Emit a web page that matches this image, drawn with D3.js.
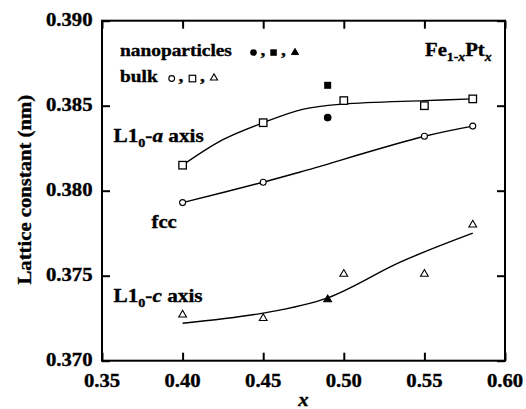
<!DOCTYPE html>
<html><head><meta charset="utf-8">
<script src="https://cdn.jsdelivr.net/npm/d3@7"></script>
<style>
html,body{margin:0;padding:0;background:#fff;}
text{font-family:"Liberation Serif","Times New Roman",serif;font-weight:bold;fill:#000;stroke:#000;stroke-width:0.35px;}
</style></head>
<body><svg id="c" width="526" height="409"></svg>
<script>
// ---- data ----
const xTicks = [0.35, 0.40, 0.45, 0.50, 0.55, 0.60];
const yTicks = [0.370, 0.375, 0.380, 0.385, 0.390];
const xTickLabels = ["0.35", "0.40", "0.45", "0.50", "0.55", "0.60"];
const yTickLabels = ["0.370", "0.375", "0.380", "0.385", "0.390"];

const bulkAx = [0.40, 0.45, 0.50, 0.55, 0.58];
const bulkA  = [0.3815, 0.3840, 0.3853, 0.3850, 0.3854];
const bulkFccX = [0.40, 0.45, 0.55, 0.58];
const bulkFcc  = [0.3793, 0.3805, 0.3832, 0.3838];
const bulkCx = [0.40, 0.45, 0.50, 0.55, 0.58];
const bulkC  = [0.3727, 0.3725, 0.3751, 0.3751, 0.3780];

const nanoX = [0.49];
const nanoA = [0.3862];
const nanoFcc = [0.3843];
const nanoC = [0.3736];

const fitAx = [0.40, 0.425, 0.45, 0.475, 0.50, 0.55, 0.58];
const fitA  = [0.3815, 0.3830, 0.3840, 0.3848, 0.3851, 0.3853, 0.3854];
const fitFccX = [0.40, 0.45, 0.473, 0.55, 0.58];
const fitFcc  = [0.3793, 0.3805, 0.3811, 0.3832, 0.3838];
const fitCx = [0.40, 0.45, 0.49, 0.535, 0.58];
const fitC  = [0.3722, 0.3728, 0.3737, 0.3758, 0.3775];

// ---- layout ----
const L = 102, R = 505, T = 20.7, B = 360.7;
const SX = 1.15; // horizontal text stretch
const svg = d3.select("#c");
const x = d3.scaleLinear().domain([0.35, 0.60]).range([L, R]);
const y = d3.scaleLinear().domain([0.370, 0.390]).range([B, T]);

function txt(px, py, anchor, size, sx) {
  return svg.append("text")
    .attr("transform", `translate(${px},${py}) scale(${sx || SX},1)`)
    .attr("text-anchor", anchor).style("font-size", size + "px");
}

// axes (ticks inward on all sides)
const tl = 8;
const styleAxis = g => { g.select(".domain").remove(); g.selectAll("line").attr("stroke", "#000").attr("stroke-width", 2); };
svg.append("g").attr("transform", `translate(0,${B})`)
  .call(d3.axisBottom(x).tickValues(xTicks).tickSize(-tl).tickFormat("")).call(styleAxis);
svg.append("g").attr("transform", `translate(0,${T})`)
  .call(d3.axisTop(x).tickValues(xTicks).tickSize(-tl).tickFormat("")).call(styleAxis);
svg.append("g").attr("transform", `translate(${L},0)`)
  .call(d3.axisLeft(y).tickValues(yTicks).tickSize(-tl).tickFormat("")).call(styleAxis);
svg.append("g").attr("transform", `translate(${R},0)`)
  .call(d3.axisRight(y).tickValues(yTicks).tickSize(-tl).tickFormat("")).call(styleAxis);
svg.append("rect").attr("x", L).attr("y", T).attr("width", R - L).attr("height", B - T)
  .attr("fill", "none").attr("stroke", "#000").attr("stroke-width", 2);

// tick labels
xTicks.forEach((v, i) => txt(x(v), 386.5, "middle", 18).text(xTickLabels[i]));
yTicks.forEach((v, i) => txt(92.5, y(v) + 5.5, "end", 18).text(yTickLabels[i]));

// axis titles
txt(x(0.475), 406, "middle", 18).style("font-style", "italic").text("x");
svg.append("text").attr("transform", `translate(31,${(T + B) / 2 - 1}) rotate(-90) scale(${SX},1)`)
  .attr("text-anchor", "middle").style("font-size", "18px").text("Lattice constant (nm)");

// fit curves
const line = d3.line().x(d => x(d[0])).y(d => y(d[1])).curve(d3.curveCatmullRom.alpha(0.5));
[[fitAx, fitA], [fitFccX, fitFcc], [fitCx, fitC]].forEach(([xs, ys]) => {
  svg.append("path").datum(xs.map((v, i) => [v, ys[i]])).attr("d", line)
    .attr("fill", "none").attr("stroke", "#000").attr("stroke-width", 1.4);
});

// markers
function squares(xs, ys, filled) {
  const sq = filled ? 7 : 7.5;
  svg.append("g").selectAll("rect").data(xs.map((v, i) => [v, ys[i]])).join("rect")
    .attr("x", d => x(d[0]) - sq / 2).attr("y", d => y(d[1]) - sq / 2)
    .attr("width", sq).attr("height", sq)
    .attr("fill", filled ? "#000" : "#fff").attr("stroke", filled ? "none" : "#000").attr("stroke-width", 1.3);
}
function circles(xs, ys, filled) {
  svg.append("g").selectAll("circle").data(xs.map((v, i) => [v, ys[i]])).join("circle")
    .attr("cx", d => x(d[0])).attr("cy", d => y(d[1])).attr("r", filled ? 3.3 : 3)
    .attr("fill", filled ? "#000" : "#fff").attr("stroke", "#000").attr("stroke-width", 1.1);
}
const tri = d3.symbol(d3.symbolTriangle, 26);
function triangles(xs, ys, filled) {
  svg.append("g").selectAll("path").data(xs.map((v, i) => [v, ys[i]])).join("path")
    .attr("d", tri).attr("transform", d => `translate(${x(d[0])},${y(d[1])})`)
    .attr("fill", filled ? "#000" : "#fff").attr("stroke", "#000").attr("stroke-width", 1.1);
}
squares(bulkAx, bulkA, false);
circles(bulkFccX, bulkFcc, false);
triangles(bulkCx, bulkC, false);
squares(nanoX, nanoA, true);
circles(nanoX, nanoFcc, true);
triangles(nanoX, nanoC, true);

// legend
const LS = 17, LX = 1.14;
txt(120, 56, "start", LS, LX).text("nanoparticles");
txt(120, 81.5, "start", LS, LX).text("bulk");
svg.append("circle").attr("cx", 253.5).attr("cy", 52.5).attr("r", 3.3).attr("fill", "#000");
svg.append("rect").attr("x", 270.3).attr("y", 49.3).attr("width", 6.5).attr("height", 6.5).attr("fill", "#000");
svg.append("path").attr("d", d3.symbol(d3.symbolTriangle, 22)).attr("transform", "translate(295,52.5)").attr("fill", "#000").attr("stroke", "#000").attr("stroke-width", 1);
txt(260.5, 56, "start", LS, LX).text(",");
txt(281, 56, "start", LS, LX).text(",");
svg.append("circle").attr("cx", 171.7).attr("cy", 78.5).attr("r", 2.9).attr("fill", "#fff").attr("stroke", "#000").attr("stroke-width", 1.1);
svg.append("rect").attr("x", 189.2).attr("y", 75.3).attr("width", 6.5).attr("height", 6.5).attr("fill", "#fff").attr("stroke", "#000").attr("stroke-width", 1.2);
svg.append("path").attr("d", d3.symbol(d3.symbolTriangle, 22)).attr("transform", "translate(214,78)").attr("fill", "#fff").attr("stroke", "#000").attr("stroke-width", 1.1);
txt(178.5, 81.5, "start", LS, LX).text(",");
txt(200, 81.5, "start", LS, LX).text(",");

// compound label
const fe = txt(425, 56, "start", 18);
fe.append("tspan").text("Fe");
fe.append("tspan").attr("dy", 5).style("font-size", "12px").text("1-");
fe.append("tspan").style("font-size", "12px").style("font-style", "italic").text("x");
fe.append("tspan").attr("dy", -5).text("Pt");
fe.append("tspan").attr("dy", 5).style("font-size", "12px").style("font-style", "italic").text("x");

// curve labels
function axisLabel(px, py, letter) {
  const t = txt(px, py, "start", 18, 1.18);
  t.append("tspan").text("L1");
  t.append("tspan").attr("dy", 5).style("font-size", "12px").text("0");
  t.append("tspan").attr("dy", -5).text("-");
  t.append("tspan").style("font-style", "italic").text(letter);
  t.append("tspan").text(" axis");
}
axisLabel(113.5, 141.5, "a");
txt(151.5, 227.5, "start", 18).text("fcc");
axisLabel(113.5, 301.5, "c");
</script></body></html>
